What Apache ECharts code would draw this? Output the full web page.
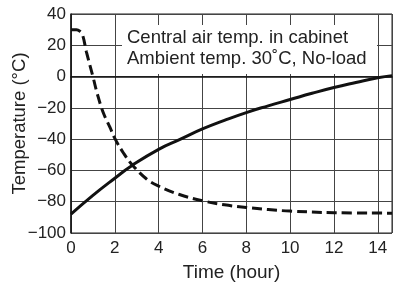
<!DOCTYPE html>
<html>
<head>
<meta charset="utf-8">
<script src="https://cdn.jsdelivr.net/npm/echarts@6/dist/echarts.min.js"></script>
<style>
  html, body { margin: 0; padding: 0; background: #fff; }
  #chart { width: 393px; height: 284px; }
</style>
</head>
<body>
<div id="chart"></div>
<script>
// time (hour) and temperature (°C)
var cabinetTime = [0, 1, 2, 2.77, 4, 5, 6, 7, 8, 9, 10, 11, 12, 13, 14, 14.65];
var cabinetTemp = [-88, -76, -65, -57, -46.5, -40, -33.5, -28, -23, -18.7, -14.7, -10.7, -7, -3.8, -0.8, 0.5];

var ambientTime = [0, 0.25, 0.4, 0.53, 0.7, 1.0, 1.2, 1.47, 1.78, 2.0, 2.4, 2.77, 3.45, 4, 4.95, 6.1, 7, 8, 9, 10, 12, 14.65];
var ambientTemp = [30, 30, 29, 26.5, 16, 0, -11, -23, -32.5, -39.5, -49, -56, -65.5, -70, -75.4, -79.7, -82, -83.7, -85, -86, -87, -87.3];

var xTicks = [0, 2, 4, 6, 8, 10, 12, 14];
var yTicks = [-100, -80, -60, -40, -20, 0, 20, 40];

function pairs(xs, ys) {
  return xs.map(function (x, i) { return [x, ys[i]]; });
}

var chart = echarts.init(document.getElementById('chart'));
var tickFont = { fontFamily: 'Liberation Sans, sans-serif', fontSize: 17, color: '#222' };

chart.setOption({
  animation: false,
  grid: {
    left: 71, right: 1, top: 14, bottom: 51,
    outerBoundsMode: 'none',
    show: true, borderColor: '#222', borderWidth: 1
  },
  xAxis: {
    type: 'value',
    min: xTicks[0],
    max: 14.65,
    interval: 2,
    name: 'Time (hour)',
    nameLocation: 'middle',
    nameGap: 30,
    nameMoveOverlap: false,
    nameTextStyle: { fontFamily: 'Liberation Sans, sans-serif', fontSize: 19, color: '#222' },
    axisLine: { lineStyle: { color: '#111', width: 1.5 } },
    axisTick: { show: false },
    axisLabel: Object.assign({ showMaxLabel: false, margin: 7 }, tickFont),
    splitLine: { lineStyle: { color: '#444', width: 1 } }
  },
  yAxis: {
    type: 'value',
    min: yTicks[0],
    max: yTicks[yTicks.length - 1],
    interval: 20,
    name: 'Temperature (°C)',
    nameLocation: 'middle',
    nameGap: 42,
    nameMoveOverlap: false,
    nameTextStyle: { fontFamily: 'Liberation Sans, sans-serif', fontSize: 18.5, color: '#222' },
    axisLine: { show: true, lineStyle: { color: '#111', width: 1.5 } },
    axisTick: { show: false },
    axisLabel: Object.assign({
      margin: 5,
      formatter: function (v) { return String(v).replace('-', '\u2212'); }
    }, tickFont),
    splitLine: { lineStyle: { color: '#444', width: 1 } }
  },
  graphic: [
    {
      type: 'rect',
      shape: { x: 122, y: 25, width: 255, height: 49 },
      style: { fill: '#fff' },
      z: 10
    },
    {
      type: 'text',
      x: 127, y: 27,
      style: {
        text: 'Central air temp. in cabinet\nAmbient temp. 30˚C, No-load',
        font: '18.5px "Liberation Sans", sans-serif',
        fill: '#222',
        lineHeight: 21
      },
      z: 11
    }
  ],
  series: [
    {
      type: 'line',
      data: pairs(cabinetTime, cabinetTemp),
      smooth: 0.5,
      symbol: 'none',
      lineStyle: { color: '#111', width: 3 },
      z: 5
    },
    {
      type: 'line',
      data: pairs(ambientTime, ambientTemp),
      smooth: 0.4,
      symbol: 'none',
      lineStyle: { color: '#111', width: 3, type: [10, 5] },
      z: 5
    }
  ]
});
</script>
</body>
</html>
